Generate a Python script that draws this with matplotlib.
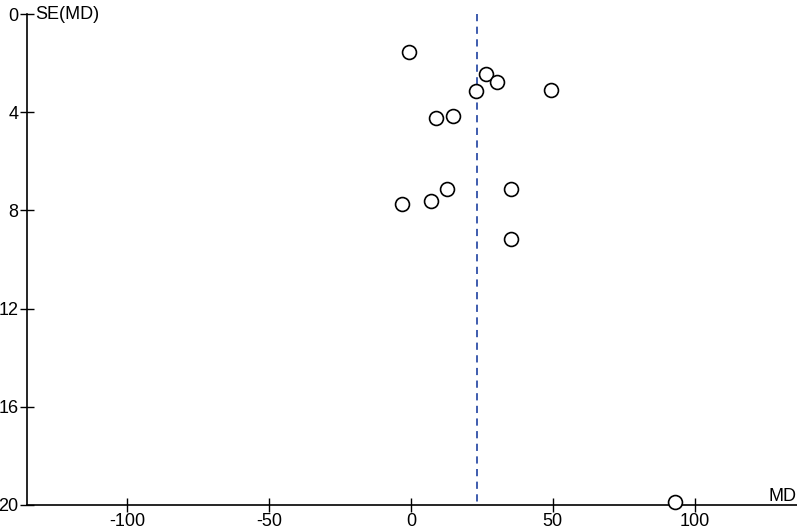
import matplotlib
matplotlib.use('Agg')
import matplotlib.pyplot as plt

# study estimates
md = [-0.7, 26.6, 30.2, 22.9, 49.3, 8.7, 14.9, 12.6, 35.1, 7.0, -3.3, 35.1, 93.2]
se = [1.55, 2.44, 2.78, 3.12, 3.08, 4.22, 4.15, 7.11, 7.11, 7.62, 7.72, 9.16, 19.86]
pooled_md = 23.2
xticks = [-100, -50, 0, 50, 100]
yticks = [0, 4, 8, 12, 16, 20]

plt.rcParams['font.family'] = ['Liberation Sans', 'DejaVu Sans']
plt.rcParams['axes.unicode_minus'] = False

fig = plt.figure(figsize=(7.97, 5.29), dpi=100)
ax = fig.add_axes([0.0339, 0.0454, 0.9661, 0.9281])

ax.plot([pooled_md, pooled_md], [0, 20], linestyle=(0, (4, 3)), color='#2f4fa8', lw=1.3)
ax.scatter(md, se, s=100, facecolor='white', edgecolor='black', linewidth=1.2, zorder=3, clip_on=False)

ax.set_xlim(-135.2, 136)
ax.set_ylim(20, 0)
ax.set_xticks(xticks)
ax.set_yticks(yticks)
ax.tick_params(direction='inout', length=10, width=1, labelsize=13)
ax.tick_params(axis='x', pad=1)
ax.tick_params(axis='y', pad=1)
for s in ['top', 'right']:
    ax.spines[s].set_visible(False)
for s in ['left', 'bottom']:
    ax.spines[s].set_linewidth(1.2)

ax.text(0.01, 1.0, 'SE(MD)', transform=ax.transAxes, fontsize=13, va='center', ha='left')
ax.text(1.0, 20, 'MD', fontsize=13, va='bottom', ha='right',
        transform=ax.get_yaxis_transform())

fig.savefig('out.png', dpi=100)
